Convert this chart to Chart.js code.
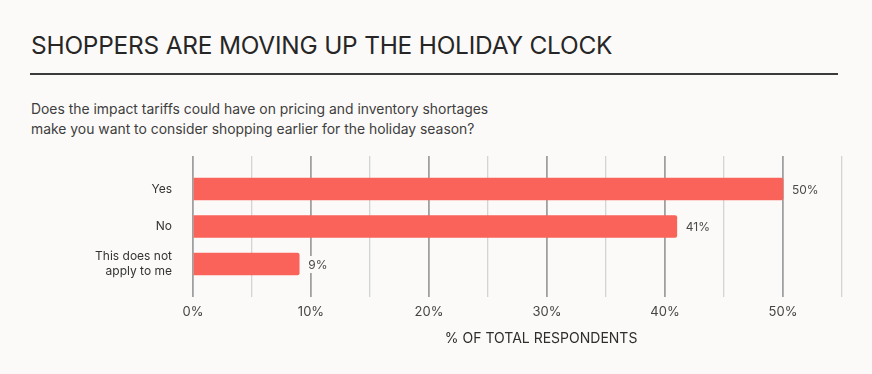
<!DOCTYPE html>
<html>
<head>
<meta charset="utf-8">
<script src="https://cdn.jsdelivr.net/npm/chart.js@4.4.1/dist/chart.umd.min.js"></script>
<style>
  html, body { margin:0; padding:0; background:#FCFAF8; }
  body { width:872px; height:374px; position:relative; overflow:hidden; font-family:Inter, "Open Sans", sans-serif; }
  #title { position:absolute; left:31px; top:30px; font-size:24.4px; font-weight:400; color:#262626; letter-spacing:-0.2px; white-space:nowrap; }
  #rule { position:absolute; left:30px; top:73px; width:808px; height:2px; background:#3a3a3a; }
  #sub { position:absolute; left:31px; top:99px; font-size:13.9px; line-height:20px; color:#3e3e3e; }
  #wrap { position:absolute; left:0; top:0; width:872px; height:374px; }
</style>
</head>
<body>
<div id="title">SHOPPERS ARE MOVING UP THE HOLIDAY CLOCK</div>
<div id="rule"></div>
<div id="sub">Does the impact tariffs could have on pricing and inventory shortages<br>make you want to consider shopping earlier for the holiday season?</div>
<div id="wrap"><canvas id="c" width="872" height="374"></canvas></div>
<script>
const categories = [["Yes"], ["No"], ["This does not", "apply to me"]];
const values = [50, 41, 9];
const axisTitle = "% OF TOTAL RESPONDENTS";
const xMax = 55;
const xStep = 5;

const barColor = "#F9635A";
const points = values.map((v, i) => ({ x: v, y: i }));

const valueLabels = {
  id: "valueLabels",
  afterDatasetsDraw(chart) {
    const ctx = chart.ctx;
    const meta = chart.getDatasetMeta(0);
    ctx.save();
    ctx.font = "12px Inter, sans-serif";
    ctx.textAlign = "left";
    ctx.textBaseline = "middle";
    meta.data.forEach((bar, i) => {
      const txt = values[i] + "%";
      const w = ctx.measureText(txt).width;
      ctx.fillStyle = "#FCFAF8";
      ctx.fillRect(bar.x + 7, bar.y - 8, w + 4, 17);
      ctx.fillStyle = "#4a4a4a";
      ctx.fillText(txt, bar.x + 9, bar.y + 1);
    });
    ctx.restore();
  }
};

const axisTitlePlugin = {
  id: "axisTitlePlugin",
  afterDraw(chart) {
    const ctx = chart.ctx;
    const xs = chart.scales.x;
    ctx.save();
    ctx.font = "14px Inter, sans-serif";
    ctx.fillStyle = "#2e2e2e";
    ctx.textAlign = "center";
    ctx.textBaseline = "middle";
    ctx.fillText(axisTitle, xs.getPixelForValue(29.5), chart.chartArea.bottom + 42);
    ctx.restore();
  }
};

new Chart(document.getElementById("c"), {
  type: "bar",
  data: {
    datasets: [{
      data: points,
      backgroundColor: barColor,
      borderRadius: 2,
      borderSkipped: "start",
      barThickness: 22
    }]
  },
  options: {
    indexAxis: "y",
    responsive: false,
    animation: false,
    events: [],
    layout: { padding: { left: 0, right: 30, top: 156, bottom: 0 } },
    plugins: { legend: { display: false }, tooltip: { enabled: false } },
    scales: {
      x: {
        type: "linear",
        min: 0,
        max: xMax,
        border: { display: false },
        grid: {
          drawTicks: false,
          color: c => (c.tick && c.tick.value % 10 === 0) ? "#a0a0a0" : "#d4d4d4",
          lineWidth: c => (c.tick && c.tick.value % 10 === 0) ? 1.8 : 1.3
        },
        ticks: {
          stepSize: xStep,
          padding: 7,
          color: "#444",
          font: { family: "Inter", size: 13 },
          maxRotation: 0,
          autoSkip: false,
          callback: v => (v % 10 === 0 && v <= 50) ? v + "%" : ""
        },
        afterFit: s => { s.height = 77; }
      },
      y: {
        type: "linear",
        offset: false,
        bounds: "data",
        min: -0.88,
        max: 2.88,
        reverse: true,
        border: { display: false },
        grid: { display: false, offset: false, drawTicks: false },
        afterBuildTicks: s => { s.ticks = categories.map((c, i) => ({ value: i })); },
        ticks: {
          padding: 21,
          color: "#333",
          font: { family: "Inter", size: 12, lineHeight: 1.25 },
          callback: v => categories[v]
        },
        afterFit: s => { s.width = 193; }
      }
    }
  },
  plugins: [valueLabels, axisTitlePlugin]
});
</script>
</body>
</html>
